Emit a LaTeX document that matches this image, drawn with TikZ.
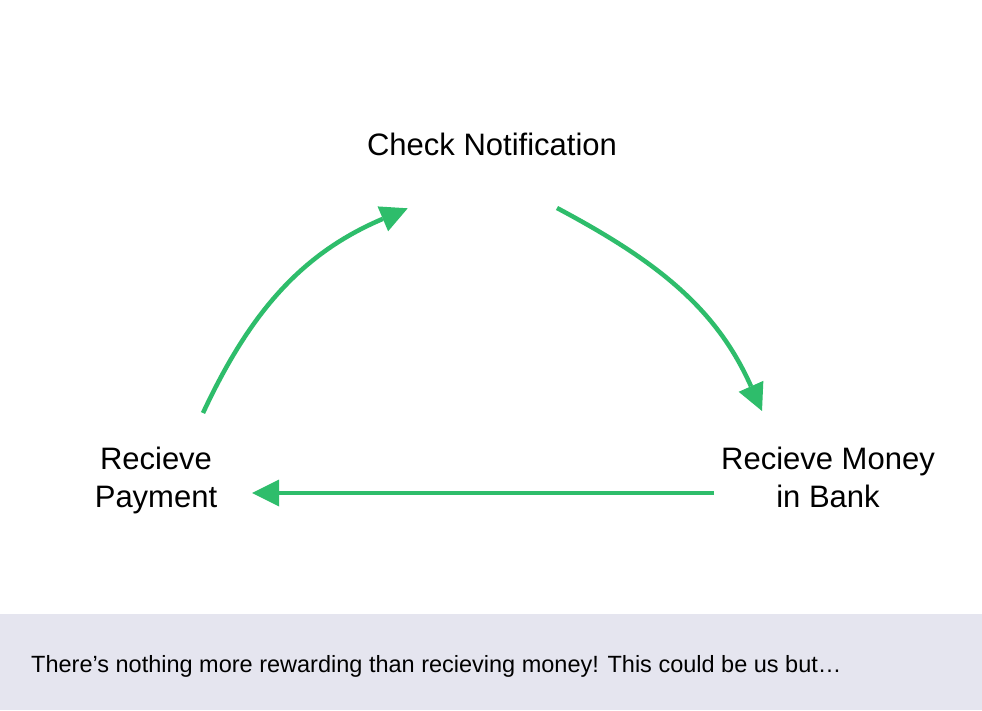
\documentclass[tikz,border=0pt]{standalone}
\usepackage{fontspec}
\setmainfont{Liberation Sans}
\usetikzlibrary{arrows.meta}
\definecolor{flowgreen}{HTML}{2EBD6B}
\definecolor{bandgray}{HTML}{E5E5EF}
\tikzset{
  label/.style={font=\fontsize{31}{37.5}\selectfont, text=black, inner sep=0pt, align=center},
  flow/.style={draw=flowgreen, line width=4.5pt, -{Triangle[length=27pt,width=27pt,line width=0pt]}},
}
\begin{document}
\begin{tikzpicture}[x=1pt,y=1pt]
\useasboundingbox (0,0) rectangle (982,710);
\fill[white] (0,0) rectangle (982,710);
\fill[bandgray] (0,0) rectangle (982,96);
\node[anchor=base west, inner sep=0pt, font=\fontsize{23.5}{27}\selectfont] (caption) at (31,38) {There’s nothing more rewarding than recieving money! This could be us but…};
\node[label, anchor=base] (check) at (492,554) {Check Notification};
\node[label, anchor=base] (pay) at (156,203) {Recieve\\Payment};
\node[label, anchor=base] (bank) at (828,203) {Recieve Money\\in Bank};
\coordinate (a1s) at (203,297);
\coordinate (a1e) at (407.7,501.7);
\coordinate (a2s) at (557,502);
\coordinate (a2e) at (762,299);
\coordinate (a3s) at (714,217);
\coordinate (a3e) at (252,217);
\draw[flow] (a1s) to[out=65,in=203] (a1e);
\draw[flow] (a2s) to[out=-28,in=114] (a2e);
\draw[flow] (a3s) -- (a3e);
\end{tikzpicture}
\end{document}
